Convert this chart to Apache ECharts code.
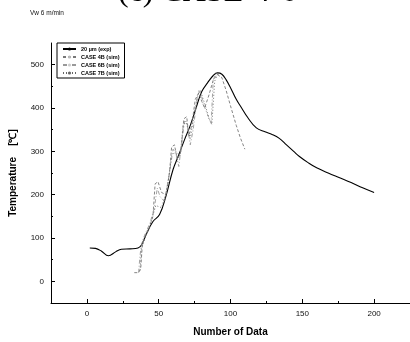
<!DOCTYPE html>
<html><head><meta charset="utf-8">
<script src="https://cdn.jsdelivr.net/npm/echarts@6/dist/echarts.min.js"></script>
<style>html,body{margin:0;padding:0;background:#fff}#c{width:410px;height:342px}</style>
</head><body><div id="c"></div>
<script>
var xTicks = [0, 50, 100, 150, 200];
var xMinorTicks = [25, 75, 125, 175];
var yTicks = [0, 100, 200, 300, 400, 500];
var yMinorTicks = [-50, 50, 150, 250, 350, 450];

var expX = [2, 6, 10, 15, 20, 24, 30, 35.6, 38, 41.4, 46, 50.6, 55, 60, 64, 68, 72, 76, 80, 84, 88, 91, 94, 97, 100, 104, 107, 112, 118, 124, 129, 134, 139, 144, 148, 154, 160, 168, 176, 184, 192, 200];
var expY = [77, 76, 70, 59, 68, 74, 75, 77, 84, 109, 138, 154, 196, 258, 292, 327, 360, 400, 438, 458, 475, 481, 478, 465, 447, 420, 404, 378, 354, 345, 339, 330, 315, 300, 288, 274, 262, 250, 239, 228, 216, 205];

var c4X = [33, 36, 37.5, 38.5, 40, 43, 46, 47.5, 49.5, 52, 55, 57.5, 59, 61, 63, 65.5, 67.5, 69.5, 71, 73, 75.5, 78, 80, 82, 85, 88, 91, 94, 97, 100, 104, 107, 110];
var c4Y = [20, 20, 30, 80, 100, 120, 150, 225, 230, 205, 200, 250, 310, 315, 280, 300, 375, 380, 335, 360, 420, 435, 415, 400, 430, 465, 478, 470, 440, 405, 360, 330, 305];

var c6X = [36, 37, 38, 40, 44, 47, 49, 51, 54, 57, 60, 62, 64, 66, 68, 70, 72, 74, 77, 79, 81, 84, 86.5, 88, 90, 92];
var c6Y = [20, 60, 85, 105, 135, 170, 215, 195, 185, 240, 305, 295, 265, 320, 370, 360, 315, 350, 430, 440, 410, 385, 365, 465, 480, 475];

var c7X = [37, 38, 40, 44, 48, 52, 56, 59, 62, 65, 67, 69, 72, 75, 78, 80, 83, 85, 87, 88, 89, 91, 93];
var c7Y = [25, 75, 95, 130, 175, 170, 215, 290, 300, 290, 360, 370, 330, 390, 440, 430, 400, 375, 362, 366, 462, 478, 470];

function pairs(xs, ys) { return xs.map(function (x, i) { return [x, ys[i]]; }); }

var font = '"Liberation Sans", Arial, sans-serif';
var chart = echarts.init(document.getElementById('c'), null, {renderer: 'canvas'});
chart.setOption({
  animation: false,
  backgroundColor: '#fff',
  graphic: [
    {type: 'text', left: 118, top: -23, style: {text: '(c) CASE-4-6', font: '32px "Liberation Serif", serif', fill: '#000'}},
    {type: 'text', left: 30, top: 10, style: {text: 'Vw 6 m/min', font: '6.5px ' + font, fill: '#111'}}
  ],
  legend: {
    left: 57, top: 43, orient: 'vertical',
    borderColor: '#000', borderWidth: 1, padding: [3, 5, 2, 5],
    itemWidth: 13, itemHeight: 4, itemGap: 2,
    textStyle: {fontSize: 5.5, fontFamily: font, color: '#000', fontWeight: 'bold'},
    data: ['20 µm (exp)', 'CASE 4B (sim)', 'CASE 6B (sim)', 'CASE 7B (sim)']
  },
  grid: {left: 49, top: 43, width: 362, height: 260},
  xAxis: [{
    type: 'value', min: -25, max: 225,
    name: 'Number of Data', nameLocation: 'middle', nameGap: 24,
    nameTextStyle: {fontSize: 10, fontFamily: font, fontWeight: 'bold', color: '#000'},
    axisLine: {onZero: false, lineStyle: {color: '#000', width: 1}},
    axisTick: {inside: true, length: 4, customValues: xTicks, lineStyle: {color: '#000'}},
    splitLine: {show: false},
    axisLabel: {fontSize: 8, fontFamily: font, color: '#111', margin: 7, customValues: xTicks}
  }, {
    type: 'value', min: -25, max: 225, position: 'bottom', gridIndex: 0,
    axisLine: {show: false, onZero: false},
    axisTick: {inside: true, length: 2, customValues: xMinorTicks, lineStyle: {color: '#000'}},
    splitLine: {show: false},
    axisLabel: {show: false}
  }],
  yAxis: [{
    type: 'value', min: -50, max: 550,
    name: 'Temperature    [\u2103]', nameLocation: 'middle', nameGap: 33,
    nameTextStyle: {fontSize: 10, fontFamily: font, fontWeight: 'bold', color: '#000'},
    axisLine: {show: true, onZero: false, lineStyle: {color: '#000', width: 1}},
    axisTick: {show: true, inside: true, length: 4, customValues: yTicks, lineStyle: {color: '#000'}},
    splitLine: {show: false},
    axisLabel: {fontSize: 8, fontFamily: font, color: '#111', margin: 7, customValues: yTicks}
  }, {
    type: 'value', min: -50, max: 550, position: 'left', gridIndex: 0,
    axisLine: {show: false, onZero: false},
    axisTick: {show: true, inside: true, length: 2, customValues: yMinorTicks, lineStyle: {color: '#000'}},
    splitLine: {show: false},
    axisLabel: {show: false}
  }],
  series: [
    {name: '20 µm (exp)', type: 'line', data: pairs(expX, expY), smooth: 0.4, symbol: 'none',
      lineStyle: {color: '#000', width: 1.1}, itemStyle: {color: '#000'}},
    {name: 'CASE 4B (sim)', type: 'line', data: pairs(c4X, c4Y), symbol: 'none',
      lineStyle: {color: '#777', width: 0.9, type: [3, 2]}, itemStyle: {color: '#bbb'}},
    {name: 'CASE 6B (sim)', type: 'line', data: pairs(c6X, c6Y), symbol: 'none',
      lineStyle: {color: '#999', width: 0.9, type: [4, 2, 1, 2]}, itemStyle: {color: '#ccc'}},
    {name: 'CASE 7B (sim)', type: 'line', data: pairs(c7X, c7Y), symbol: 'none',
      lineStyle: {color: '#666', width: 0.9, type: [1, 2]}, itemStyle: {color: '#666'}}
  ]
});
</script></body></html>
